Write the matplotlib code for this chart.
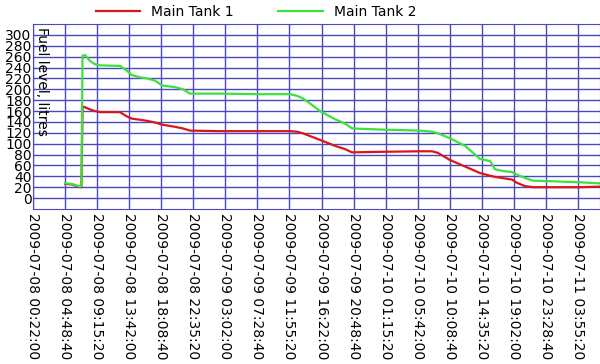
import matplotlib
matplotlib.use('Agg')
import matplotlib.pyplot as plt
import matplotlib.dates as mdates
import pandas as pd

# readings (time, litres) for both tanks
times = [
    '2009-07-08 04:49', '2009-07-08 05:46', '2009-07-08 06:53', '2009-07-08 07:05',
    '2009-07-08 07:14', '2009-07-08 07:34', '2009-07-08 08:16', '2009-07-08 08:58',
    '2009-07-08 09:39', '2009-07-08 12:26', '2009-07-08 13:24', '2009-07-08 14:05',
    '2009-07-08 15:12', '2009-07-08 16:10', '2009-07-08 17:17', '2009-07-08 18:15',
    '2009-07-08 20:03', '2009-07-08 21:09', '2009-07-08 22:08', '2009-07-09 02:17',
    '2009-07-09 07:50', '2009-07-09 12:00', '2009-07-09 12:58', '2009-07-09 13:48',
    '2009-07-09 14:46', '2009-07-09 16:09', '2009-07-09 18:14', '2009-07-09 19:37',
    '2009-07-09 20:36', '2009-07-10 00:28', '2009-07-10 06:01', '2009-07-10 07:41',
    '2009-07-10 08:30', '2009-07-10 10:10', '2009-07-10 12:15', '2009-07-10 14:20',
    '2009-07-10 15:44', '2009-07-10 16:24', '2009-07-10 17:48', '2009-07-10 18:46',
    '2009-07-10 19:27', '2009-07-10 20:34', '2009-07-10 21:41', '2009-07-11 00:02',
    '2009-07-11 04:12', '2009-07-11 06:58',
]
tank1 = [26, 25, 20, 20, 168, 167, 163, 160, 158, 158, 150, 146, 144, 142, 139, 135,
         131, 128, 124, 123, 123, 123, 122, 119, 114, 107, 96, 90, 84, 85, 86, 86,
         83, 70, 58, 46, 41, 39, 36, 34, 28, 22, 20, 20, 20, 21]
tank2 = [27, 26, 21, 22, 262, 263, 252, 246, 244, 243, 234, 226, 222, 220, 216, 207,
         204, 200, 192, 192, 191, 191, 188, 183, 174, 160, 145, 137, 128, 126, 124, 122,
         119, 110, 96, 72, 68, 53, 49, 48, 43, 37, 32, 31, 29, 27]

x_start = '2009-07-08 00:22:00'
x_end = '2009-07-11 06:58:00'
tick_times = pd.date_range(x_start, periods=18, freq='16000s')
y_ticks = list(range(0, 301, 20))

t = pd.to_datetime(times)

fig = plt.figure(figsize=(6, 3.64), dpi=100)
ax = fig.add_axes([0.055, 0.426, 0.945, 0.508])

l1, = ax.plot(t, tank1, color='#d81818', lw=1.6, label='Main Tank 1')
l2, = ax.plot(t, tank2, color='#3ee03e', lw=1.6, label='Main Tank 2')

ax.set_xlim(pd.Timestamp(x_start), pd.Timestamp(x_end))
ax.set_ylim(-20, 320)
ax.set_xticks(tick_times)
ax.xaxis.set_major_formatter(mdates.DateFormatter('%Y-%m-%d %H:%M:%S'))
ax.set_yticks(y_ticks)

ax.grid(True, color='#4848c0', lw=1)
ax.set_axisbelow(True)
for s in ax.spines.values():
    s.set_color('#4848c0')

ax.tick_params(axis='x', length=0, pad=3, labelsize=10, labelrotation=270)
ax.tick_params(axis='y', length=0, pad=1, labelsize=10)
for lab in ax.get_xticklabels():
    lab.set_va('top')
    lab.set_ha('center')

ax.text(0.004, 0.985, 'Fuel level, litres', transform=ax.transAxes,
        rotation=270, va='top', ha='left', fontsize=10)

fig.legend(handles=[l1, l2], loc='upper center', bbox_to_anchor=(0.427, 1.02),
           ncol=2, frameon=False, fontsize=10, handlelength=3.2, columnspacing=3.2)

fig.savefig('out.png', dpi=100)
